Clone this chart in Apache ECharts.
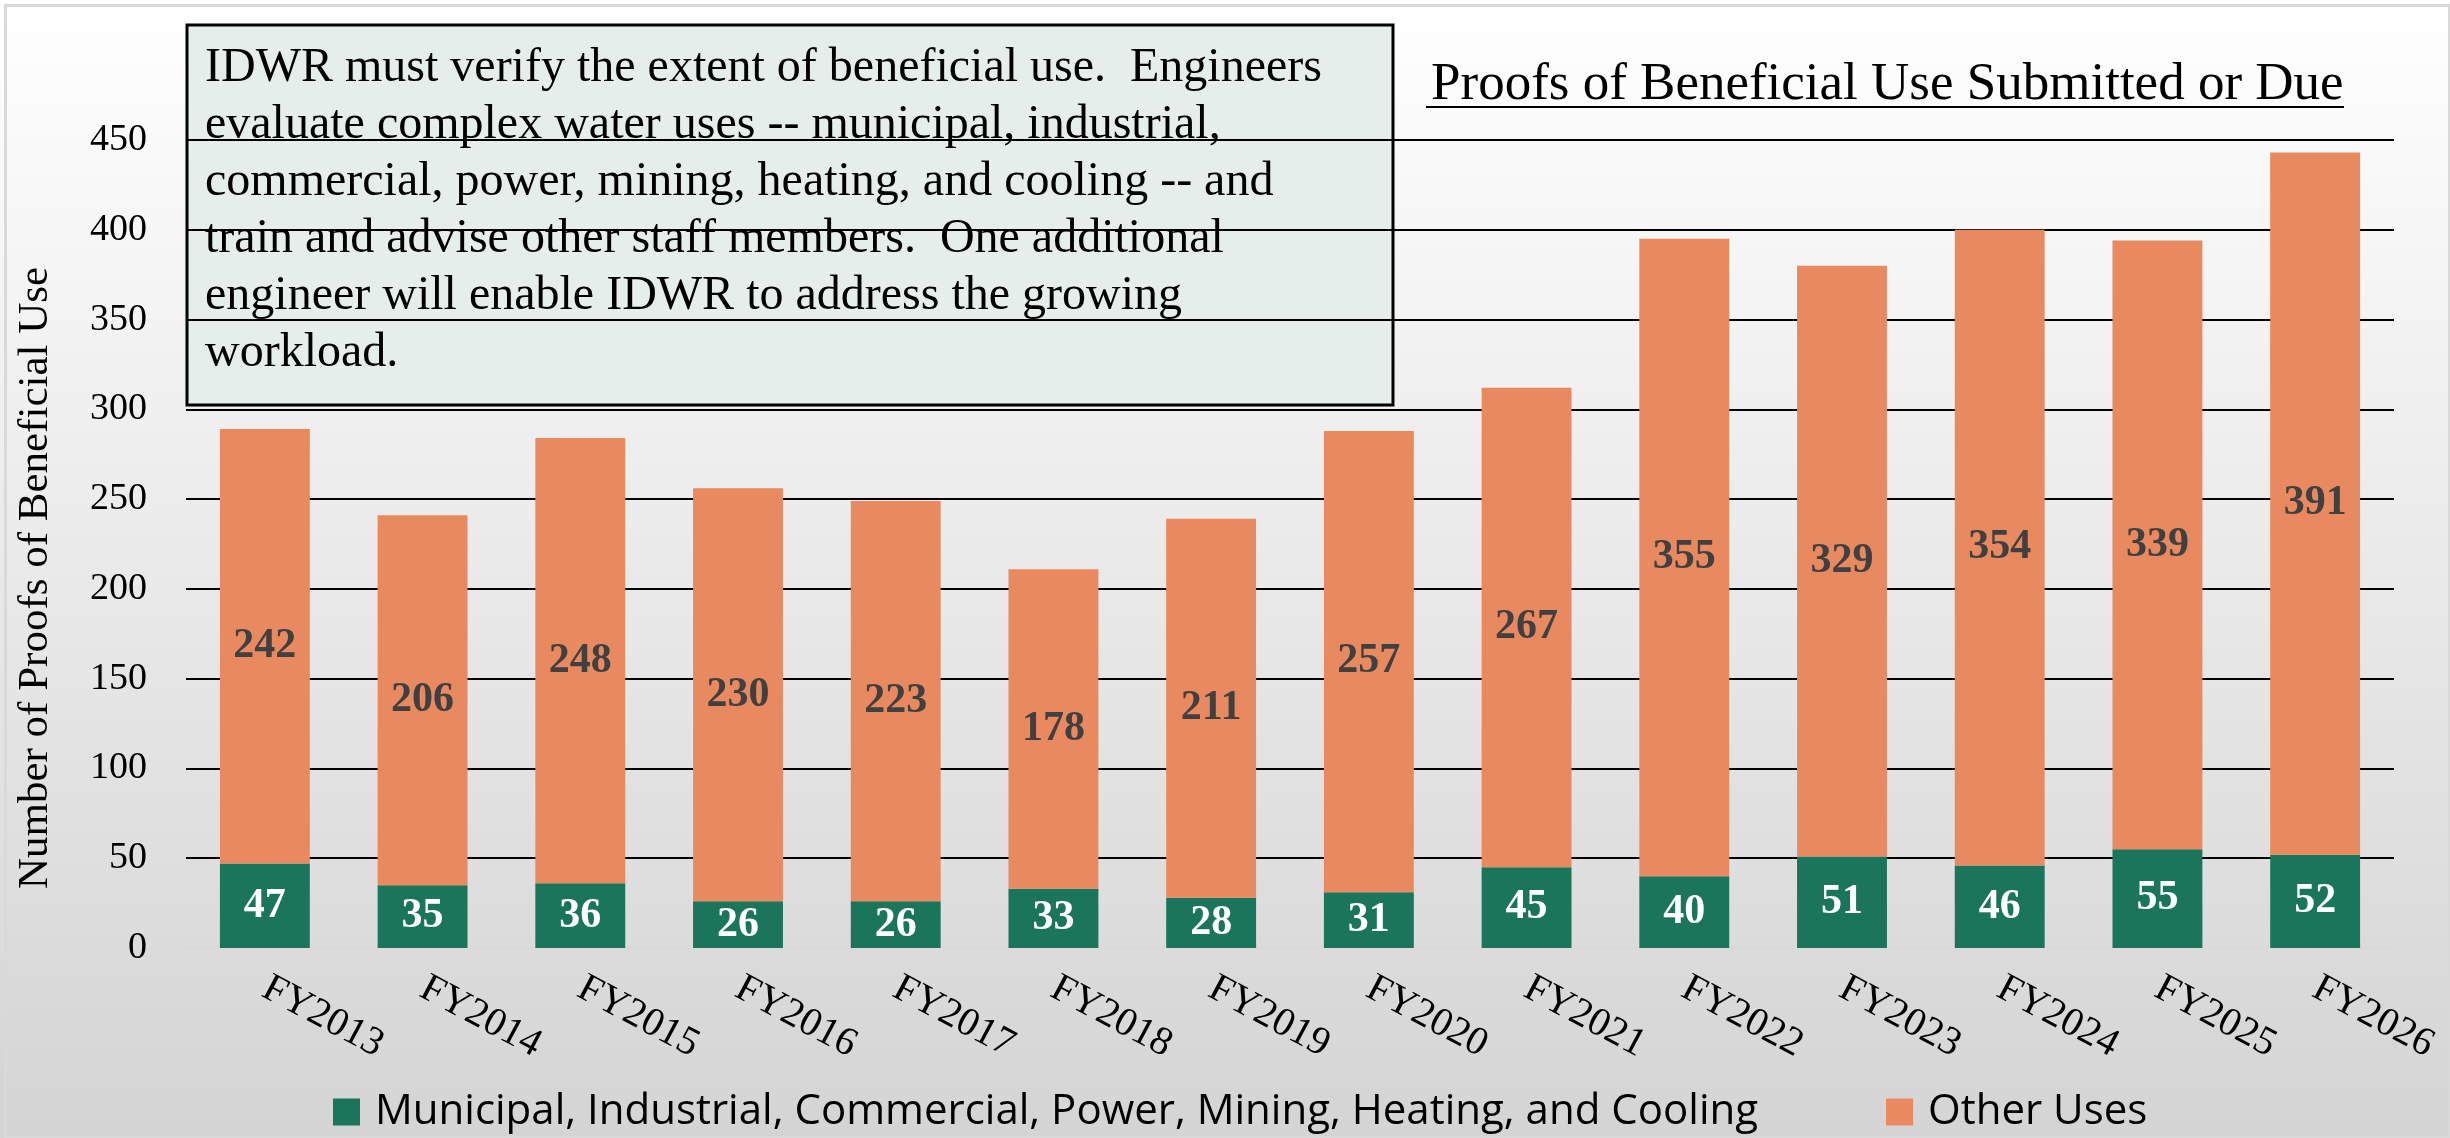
<!DOCTYPE html>
<html>
<head>
<meta charset="utf-8">
<script src="https://cdn.jsdelivr.net/npm/echarts@6/dist/echarts.min.js"></script>
<style>
  html, body { margin: 0; padding: 0; }
  #chart { width: 2450px; height: 1138px; }
</style>
</head>
<body>
<div id="chart"></div>
<script>
// Chart data
const years = ['FY2013', 'FY2014', 'FY2015', 'FY2016', 'FY2017', 'FY2018', 'FY2019',
  'FY2020', 'FY2021', 'FY2022', 'FY2023', 'FY2024', 'FY2025', 'FY2026']
const municipalUses = [47, 35, 36, 26, 26, 33, 28, 31, 45, 40, 51, 46, 55, 52]
const otherUses = [242, 206, 248, 230, 223, 178, 211, 257, 267, 355, 329, 354, 339, 391]
const seriesNames = ['Municipal, Industrial, Commercial, Power, Mining, Heating, and Cooling', 'Other Uses']

const noteLines = [
  'IDWR must verify the extent of beneficial use.  Engineers',
  'evaluate complex water uses -- municipal, industrial,',
  'commercial, power, mining, heating, and cooling -- and',
  'train and advise other staff members.  One additional',
  'engineer will enable IDWR to address the growing',
  'workload.'
]

const serif = "'Times New Roman', 'Liberation Serif', serif"
const sans = "'Open Sans', 'Noto Sans', sans-serif"

const chart = echarts.init(document.getElementById('chart'))
chart.setOption({
  animation: false,
  backgroundColor: new echarts.graphic.LinearGradient(0, 0, 0, 1, [
    { offset: 0, color: '#ffffff' },
    { offset: 1, color: '#d4d4d4' }
  ]),
  title: {
    text: 'Proofs of Beneficial Use Submitted or Due',
    left: 1426,
    top: 54,
    textStyle: { fontFamily: serif, fontSize: 53, fontWeight: 'normal', color: '#000' }
  },
  grid: { left: 186, right: 56, top: 140, bottom: 190 },
  legend: {
    left: 328,
    top: 1086,
    itemWidth: 27,
    itemHeight: 27,
    itemGap: 128,
    icon: 'rect',
    textStyle: { fontFamily: sans, fontSize: 42, color: '#000', padding: [0, 0, 0, 10] }
  },
  xAxis: {
    type: 'category',
    data: years,
    axisLine: { lineStyle: { color: '#d9d9d9', width: 2 } },
    axisTick: { show: false },
    axisLabel: { rotate: -28, margin: 38, fontFamily: serif, fontSize: 40, color: '#000' }
  },
  yAxis: {
    type: 'value',
    min: 0,
    max: 450,
    interval: 50,
    axisLabel: { margin: 39, fontFamily: serif, fontSize: 38, color: '#000' },
    splitLine: { lineStyle: { color: '#000', width: 2 } }
  },
  series: [
    {
      name: seriesNames[0],
      type: 'bar',
      stack: 'total',
      barWidth: '57%',
      data: municipalUses,
      itemStyle: { color: '#1a755a' },
      label: {
        show: true,
        position: 'inside',
        fontFamily: serif,
        fontSize: 42,
        fontWeight: 'bold',
        color: '#fff'
      }
    },
    {
      name: seriesNames[1],
      type: 'bar',
      stack: 'total',
      barWidth: '57%',
      data: otherUses,
      itemStyle: { color: '#e9895f' },
      label: {
        show: true,
        position: 'inside',
        fontFamily: serif,
        fontSize: 42,
        fontWeight: 'bold',
        color: '#404040'
      }
    }
  ],
  graphic: [
    {
      type: 'rect',
      left: 3, top: 3,
      shape: { width: 2444, height: 1132 },
      style: { fill: 'none', stroke: '#d9d9d9', lineWidth: 3 },
      z: 100
    },
    {
      // underline for the title
      type: 'line',
      shape: { x1: 1426, y1: 107, x2: 2344, y2: 107 },
      style: { stroke: '#000', lineWidth: 2 },
      z: 100
    },
    {
      type: 'text',
      x: 36,
      y: 578,
      rotation: Math.PI / 2,
      style: {
        text: 'Number of Proofs of Beneficial Use',
        font: '43px ' + serif,
        fill: '#000',
        align: 'center',
        verticalAlign: 'middle'
      },
      z: 100
    },
    {
      type: 'group',
      z: 100,
      children: [
        {
          type: 'rect',
          shape: { x: 187, y: 25, width: 1206, height: 380 },
          style: { fill: '#e5eeea', stroke: '#000', lineWidth: 3 }
        },
        {
          type: 'text',
          x: 205,
          y: 40,
          style: {
            text: noteLines.join('\n'),
            font: '48px ' + serif,
            lineHeight: 57,
            fill: '#000'
          }
        }
      ]
    }
  ]
})
</script>
</body>
</html>
